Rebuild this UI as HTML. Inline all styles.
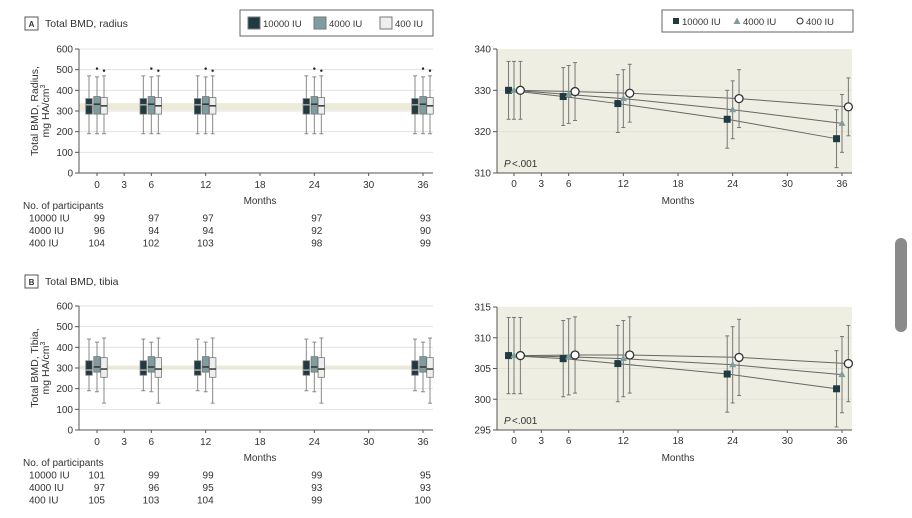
<!DOCTYPE html>
<html><head><meta charset="utf-8"><style>
body{margin:0;background:#fff;width:912px;height:513px;overflow:hidden;font-family:"Liberation Sans",sans-serif}
svg text{font-family:"Liberation Sans",sans-serif;fill:#333}
</style></head><body>
<svg id="fig" width="912" height="513"></svg>
<div style="position:absolute;left:895px;top:238px;width:12px;height:94px;background:#8a8a8a;border-radius:6px"></div>
<script>
const months=[0,6,12,24,36];
const groups=['10000 IU','4000 IU','400 IU'];
const nA=[[99,97,97,97,93],[96,94,94,92,90],[104,102,103,98,99]];
const nB=[[101,99,99,99,95],[97,96,95,93,93],[105,103,104,99,100]];
// box stats per group: [whiskerLow, q1, median, q3, whiskerHigh, outlier or null]
const boxA=[[190,285,330,360,470,null],[190,285,333,370,465,505],[190,285,325,365,470,495]];
const boxB=[[190,265,290,335,440,null],[185,280,305,355,425,null],[130,255,295,350,445,null]];
const meanA=[[330,328.5,326.8,323,318.3],[330,329,328,325.3,322],[330,329.7,329.3,328,326]];
const errA=[7,7,7,7,7];
const meanB=[[307.1,306.6,305.8,304.1,301.7],[307.1,306.9,306.6,305.6,304],[307.1,307.2,307.2,306.8,305.8]];
const errB=[6.2,6.2,6.2,6.2,6.2];
const xTicks=[0,3,6,12,18,24,30,36];
const boxTicks=[0,100,200,300,400,500,600];
const ticksA2=[310,320,330,340];
const ticksB2=[295,300,305,310,315];
const fills=['#1f3a40','#7f9c9e','#eef0f0'];
const svg=document.getElementById('fig');
const NS='http://www.w3.org/2000/svg';
function el(tag,a,parent){const e=document.createElementNS(NS,tag);for(const k in a)e.setAttribute(k,a[k]);(parent||svg).appendChild(e);return e;}
function txt(x,y,s,a,parent){const t=el('text',Object.assign({x:x,y:y,'font-size':10},a||{}),parent);t.textContent=s;return t;}

function panelLabel(y,letter,title){
  const b=el('rect',{x:25,y:y,width:13,height:13,fill:'#fff',stroke:'#555'});
  
  const t=txt(31.5,y+10,letter,{'font-size':8,'font-weight':'bold','text-anchor':'middle'});
  const tt=txt(45,y+10,title,{'font-size':10.5});
  
}

function boxChart(top,bot,boxes,nTab,tableY,label,yt){
  const g=el('g',{});
  const x0=97,x1=423,L=79,R=433;
  const sx=m=>x0+(x1-x0)*m/36, sy=v=>bot-(bot-top)*v/600;
  // band
  const bl=label==='radius'?[304,338]:[292,312];
  el('rect',{x:L,y:sy(bl[1]),width:R-L,height:sy(bl[0])-sy(bl[1]),fill:'#ecebd9'},g);
  boxTicks.forEach(v=>{
    if(v>0)el('line',{x1:L,x2:R,y1:sy(v),y2:sy(v),stroke:'#e3e3e3'},g);
    el('line',{x1:L-4,x2:L,y1:sy(v),y2:sy(v),stroke:'#555'},g);
    txt(L-6,sy(v)+3.5,String(v),{'text-anchor':'end'},g);
  });
  el('line',{x1:L,x2:L,y1:top,y2:bot,stroke:'#555'},g);
  el('line',{x1:L,x2:R,y1:bot,y2:bot,stroke:'#555'},g);
  xTicks.forEach(m=>{el('line',{x1:sx(m),x2:sx(m),y1:bot,y2:bot+3,stroke:'#555'},g);txt(sx(m),bot+15,String(m),{'text-anchor':'middle'},g);});
  const xl=txt(260,bot+31,'Months',{'text-anchor':'middle'},g);
  
  const yl=el('text',{transform:'translate(38,'+((top+bot)/2)+') rotate(-90)','font-size':10.5,'text-anchor':'middle'},g);
  
  const t1=el('tspan',{x:0,y:0},yl);t1.textContent='Total BMD, '+yt+',';
  const t2=el('tspan',{x:0,y:11},yl);t2.textContent='mg HA/cm';
  const t3=el('tspan',{dy:-4,'font-size':7},yl);t3.textContent='3';
  const off=[-8,0,7];
  months.forEach((m,mi)=>{
    boxes.forEach((b,gi)=>{
      const cx=sx(m)+off[gi],w=6.5;
      const bx=el('g',{},g);
      
      
      el('line',{x1:cx,x2:cx,y1:sy(b[0]),y2:sy(b[4]),stroke:'#888'},bx);
      el('line',{x1:cx-2,x2:cx+2,y1:sy(b[0]),y2:sy(b[0]),stroke:'#888'},bx);
      el('line',{x1:cx-2,x2:cx+2,y1:sy(b[4]),y2:sy(b[4]),stroke:'#888'},bx);
      el('rect',{x:cx-w/2,y:sy(b[3]),width:w,height:sy(b[1])-sy(b[3]),fill:fills[gi],stroke:'#777','stroke-width':0.8},bx);
      el('line',{x1:cx-w/2,x2:cx+w/2,y1:sy(b[2]),y2:sy(b[2]),stroke:gi===0?'#aaa':'#333','stroke-width':1.5},bx);
      if(b[5]!==null)el('circle',{cx:cx,cy:sy(b[5]),r:1.2,fill:'#222'},bx);
    });
  });
  const tb=el('g',{},g);
  txt(23,tableY,'No. of participants',{},tb);
  groups.forEach((gn,gi)=>{
    const y=tableY+12.5*(gi+1);
    txt(29,y,gn,{},tb);
    nTab[gi].forEach((n,mi)=>txt(sx(months[mi])+8,y,String(n),{'text-anchor':'end'},tb));
  });
}

function lineChart(top,bot,lo,hi,ticks,means,err,label){
  const g=el('g',{});
  const x0=514,x1=842,L=497,R=852;
  const sx=m=>x0+(x1-x0)*m/36, sy=v=>bot-(bot-top)*(v-lo)/(hi-lo);
  el('rect',{x:L,y:top,width:R-L,height:bot-top,fill:'#efeee2'},g);
  ticks.forEach(v=>{
    if(v>lo&&v<hi)el('line',{x1:L,x2:R,y1:sy(v),y2:sy(v),stroke:'#e2e2da'},g);
    el('line',{x1:L-4,x2:L,y1:sy(v),y2:sy(v),stroke:'#555'},g);
    txt(L-6,sy(v)+3.5,String(v),{'text-anchor':'end'},g);
  });
  el('line',{x1:L,x2:L,y1:top,y2:bot,stroke:'#555'},g);
  el('line',{x1:L,x2:R,y1:bot,y2:bot,stroke:'#555'},g);
  xTicks.forEach(m=>{el('line',{x1:sx(m),x2:sx(m),y1:bot,y2:bot+3,stroke:'#555'},g);txt(sx(m),bot+14,String(m),{'text-anchor':'middle'},g);});
  const xl=txt(678,bot+31,'Months',{'text-anchor':'middle'},g);
  
  const p=txt(504,bot-6,'P',{'font-style':'italic'},g);
  txt(512,bot-6,'<.001',{},g);
  const off=[-0.6,0,0.7];
  means.forEach((s,gi)=>{
    const pts=s.map((v,i)=>[sx(months[i]+off[gi]),sy(v)]);
    const ln=el('polyline',{points:pts.map(p=>p.join(',')).join(' '),fill:'none',stroke:'#666','stroke-width':1},g);
    
    
  });
  means.forEach((s,gi)=>{
    s.forEach((v,i)=>{
      const x=sx(months[i]+off[gi]);
      el('line',{x1:x,x2:x,y1:sy(v-err[i]),y2:sy(v+err[i]),stroke:'#777'},g);
      el('line',{x1:x-2,x2:x+2,y1:sy(v-err[i]),y2:sy(v-err[i]),stroke:'#777'},g);
      el('line',{x1:x-2,x2:x+2,y1:sy(v+err[i]),y2:sy(v+err[i]),stroke:'#777'},g);
    });
  });
  means.forEach((s,gi)=>{
    s.forEach((v,i)=>{
      const x=sx(months[i]+off[gi]),y=sy(v);let mk;
      if(gi===0)mk=el('rect',{x:x-3.5,y:y-3.5,width:7,height:7,fill:'#1f3a40'},g);
      else if(gi===1)mk=el('polygon',{points:(x)+','+(y-4)+' '+(x-3.5)+','+(y+2.5)+' '+(x+3.5)+','+(y+2.5),fill:'#7f9c9e'},g);
      else mk=el('circle',{cx:x,cy:y,r:4,fill:'#fff',stroke:'#333','stroke-width':1.3},g);
      
      
    });
  });
}

// legends
(function(){
  const lg=el('g',{});
  el('rect',{x:240,y:10,width:193,height:26,fill:'#fff',stroke:'#666'},lg);
  const xs=[248,314,380];
  groups.forEach((gn,gi)=>{
    el('rect',{x:xs[gi],y:17,width:12,height:12,fill:fills[gi],stroke:'#777'},lg);
    txt(xs[gi]+15,27,gn,{'font-size':9.5},lg);
  });
  const l2=el('g',{});
  el('rect',{x:662,y:10,width:191,height:22,fill:'#fff',stroke:'#666'},l2);
  el('rect',{x:673,y:18,width:6,height:6,fill:'#1f3a40'},l2);txt(682,25,groups[0],{'font-size':9.5},l2);
  el('polygon',{points:'737,17.5 733.5,24 740.5,24',fill:'#7f9c9e'},l2);txt(743,25,groups[1],{'font-size':9.5},l2);
  el('circle',{cx:800,cy:21,r:3,fill:'#fff',stroke:'#333'},l2);txt(806,25,groups[2],{'font-size':9.5},l2);
})();
panelLabel(17,'A','Total BMD, radius');
panelLabel(275,'B','Total BMD, tibia');
boxChart(49,173,boxA,nA,209,'radius','Radius');
boxChart(306,430,boxB,nB,466,'tibia','Tibia');
lineChart(49,173,310,340,ticksA2,meanA,errA,'radius');
lineChart(307,430,295,315,ticksB2,meanB,errB,'tibia');
</script>
</body></html>
